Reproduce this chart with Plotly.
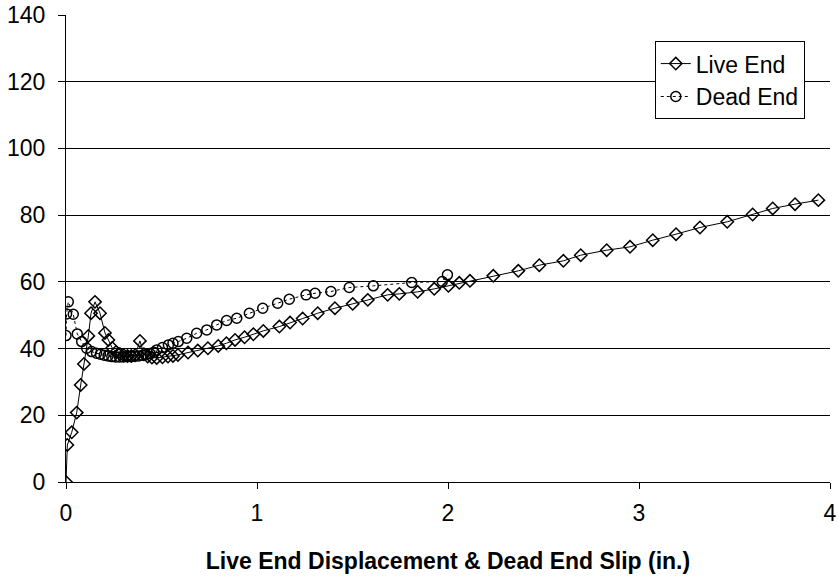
import plotly.graph_objects as go

live_x = [0, 0.007, 0.030, 0.056, 0.077, 0.094, 0.117, 0.131, 0.152, 0.178, 0.204, 0.222, 0.242, 0.262,
          0.282, 0.302, 0.322, 0.342, 0.362, 0.387, 0.408, 0.428, 0.450, 0.475, 0.505, 0.534, 0.560, 0.586,
          0.639, 0.690, 0.743, 0.797, 0.840, 0.885, 0.935, 0.981, 1.033, 1.117, 1.173, 1.239, 1.318, 1.408,
          1.501, 1.580, 1.684, 1.745, 1.841, 1.928, 2.002, 2.059, 2.115, 2.237, 2.368, 2.478, 2.604, 2.695,
          2.831, 2.953, 3.072, 3.194, 3.319, 3.462, 3.595, 3.700, 3.817, 3.939]
live_y = [0, 11.1, 14.9, 20.8, 29.1, 35.4, 43.8, 50.6, 54.0, 50.6, 44.7, 42.6, 40.2, 39.0,
          38.4, 38.0, 37.8, 37.8, 38.0, 42.3, 38.3, 37.6, 37.3, 37.2, 37.4, 37.6, 37.8, 38.1,
          38.8, 39.4, 40.1, 40.8, 41.6, 42.6, 43.4, 44.3, 45.3, 46.6, 47.8, 49.0, 50.6, 52.1,
          53.4, 54.6, 56.1, 56.4, 57.0, 57.9, 58.8, 59.7, 60.3, 61.8, 63.3, 65.0, 66.3, 68.0,
          69.5, 70.5, 72.5, 74.3, 76.3, 78.0, 80.2, 82.0, 83.3, 84.5]

dead_x = [0, 0.003, 0.012, 0.038, 0.059, 0.082, 0.108, 0.134, 0.160, 0.18, 0.20, 0.22, 0.24, 0.26,
          0.28, 0.30, 0.32, 0.34, 0.36, 0.38, 0.40, 0.42, 0.44, 0.46, 0.475, 0.505, 0.536, 0.560,
          0.588, 0.632, 0.684, 0.737, 0.789, 0.841, 0.894, 0.960, 1.030, 1.108, 1.169, 1.257, 1.304,
          1.387, 1.483, 1.609, 1.810, 1.970, 1.997]
dead_y = [43.9, 50.4, 54.0, 50.3, 44.4, 42.1, 40.1, 39.1, 38.6, 38.3, 38.0, 37.8, 37.6, 37.5,
          37.5, 37.5, 37.6, 37.6, 37.7, 37.8, 38.0, 38.2, 38.5, 38.9, 39.6, 40.3, 41.1, 41.6,
          42.1, 43.1, 44.6, 45.6, 47.1, 48.4, 49.1, 50.6, 52.1, 53.6, 54.8, 56.1, 56.6,
          57.1, 58.3, 58.8, 59.8, 60.1, 62.1]

x_ticks = [0, 1, 2, 3, 4]
y_ticks = [0, 20, 40, 60, 80, 100, 120, 140]
x_title = "Live End Displacement & Dead End Slip (in.)"

FONT = "Liberation Sans, Arial, sans-serif"

fig = go.Figure()
fig.add_trace(go.Scatter(
    x=live_x, y=live_y, name="Live End", mode="lines+markers",
    line=dict(color="black", width=1),
    marker=dict(symbol="diamond-open", size=9.5, color="black", line=dict(width=1.5, color="black")),
))
fig.add_trace(go.Scatter(
    x=dead_x, y=dead_y, name="Dead End", mode="lines+markers",
    line=dict(color="black", width=1, dash="3px,3px"),
    marker=dict(symbol="circle-open", size=10, color="black", line=dict(width=1.5, color="black")),
))

fig.update_layout(
    width=838, height=577,
    margin=dict(l=66, r=8, t=15, b=95),
    paper_bgcolor="white", plot_bgcolor="white",
    font=dict(family=FONT, size=23, color="black"),
    showlegend=True,
    legend=dict(
        x=0.967, y=0.777, xanchor="right", yanchor="bottom",
        bgcolor="white", bordercolor="black", borderwidth=1,
        font=dict(family=FONT, size=23, color="black"),
        tracegroupgap=0, itemwidth=30,
    ),
    xaxis=dict(
        range=[0, 4], tickvals=x_ticks, ticktext=[str(v) for v in x_ticks],
        showgrid=False, zeroline=False, automargin=False,
        showline=True, linecolor="black", linewidth=1,
        ticks="outside", ticklen=6, tickcolor="black", tickwidth=1,
        tickfont=dict(family=FONT, size=23), ticklabelstandoff=4,
        title=dict(text="<b>" + x_title + "</b>", font=dict(family=FONT, size=23), standoff=28),
    ),
    yaxis=dict(
        range=[0, 140], tickvals=y_ticks, ticktext=[str(v) for v in y_ticks],
        showgrid=True, gridcolor="black", gridwidth=1, zeroline=False, automargin=False,
        showline=True, linecolor="black", linewidth=1,
        ticks="outside", ticklen=7, tickcolor="black", tickwidth=1,
        tickfont=dict(family=FONT, size=23), ticklabelstandoff=8,
    ),
)

fig.write_html("out.html")
